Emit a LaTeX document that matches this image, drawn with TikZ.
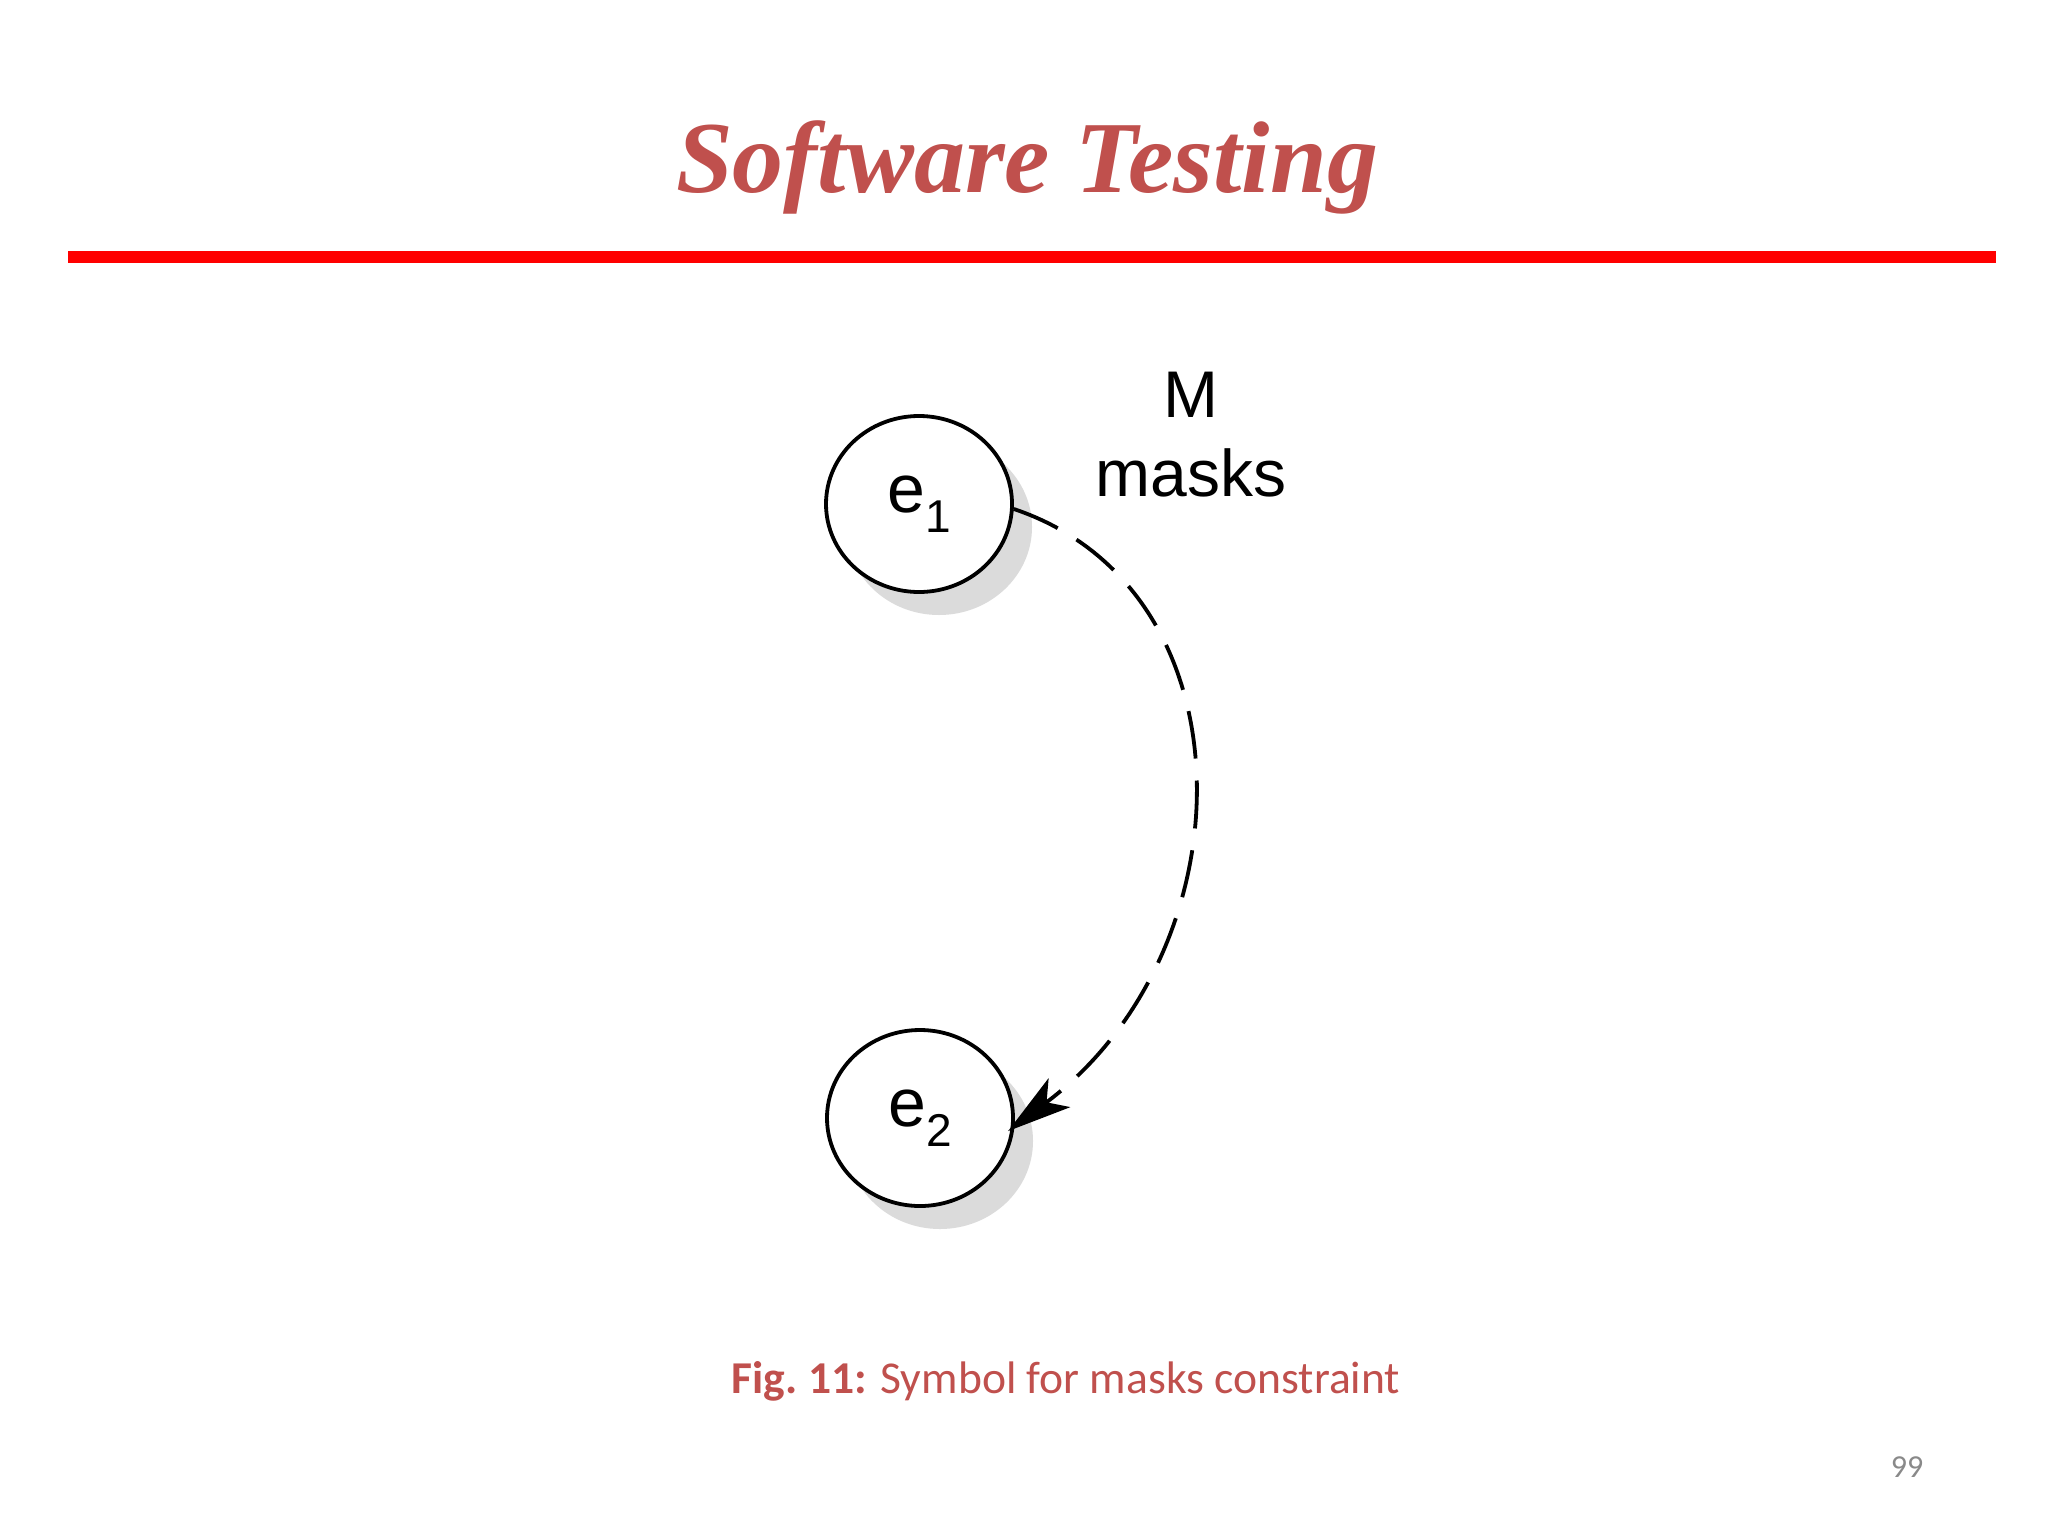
\documentclass[tikz,border=0pt]{standalone}
\usepackage{fontspec}
\usetikzlibrary{shapes.geometric,shadows,arrows.meta}
\newfontfamily\arialfont{Liberation Sans}
\newfontfamily\calibrifont{Carlito}
\newfontfamily\titlefont{Liberation Serif}
\definecolor{titlered}{RGB}{192,80,77}
\definecolor{rulered}{RGB}{255,0,0}
\definecolor{pagegray}{RGB}{137,137,137}
\tikzset{
  eventnode/.style={ellipse, draw=black, line width=1.9pt, fill=white,
    minimum width=93pt, minimum height=88pt, inner sep=0pt,
    drop shadow={shadow xshift=10pt, shadow yshift=-11.5pt, fill=black!14, opacity=1},
    font=\arialfont\fontsize{34}{34}\selectfont},
  maskarrow/.style={line width=1.9pt, dash pattern=on 24pt off 11pt,
    -{Stealth[length=32pt,width=18pt,inset=8pt]}},
  labeltext/.style={font=\arialfont\fontsize{33}{39.5}\selectfont, align=center, inner sep=0pt}
}
\begin{document}
\begin{tikzpicture}[x=0.5pt,y=-0.5pt]
\useasboundingbox[fill=white] (0,0) rectangle (2048,1536);
% title
\node[anchor=base, inner sep=0pt, text=titlered,
      font=\titlefont\bfseries\itshape\fontsize{51}{60}\selectfont] (title) at (1027,192) {Software Testing};
% rule
\fill[rulered] (68,251) rectangle (1996,263);
% events
\node[eventnode] (e1) at (919,504) {e\raisebox{-10pt}{\fontsize{23}{23}\selectfont 1}};
\node[eventnode] (e2) at (920,1118) {e\raisebox{-10pt}{\fontsize{23}{23}\selectfont 2}};
% label
\node[labeltext, anchor=north] (lbl) at (1191,372) {M\\masks};
% arrow
\draw[maskarrow, shorten >=-4pt] (e1.-3) .. controls (1255,590) and (1250,950) .. (e2.-5);
% caption
\node[anchor=base, inner sep=0pt, text=titlered,
      font=\calibrifont\fontsize{22.8}{27}\selectfont] (cap) at (1066,1393) {\textbf{Fig.\ 11:} Symbol for masks constraint};
% page number
\node[anchor=base, inner sep=0pt, text=pagegray,
      font=\calibrifont\fontsize{16}{18}\selectfont] (pg) at (1907,1477) {99};
\end{tikzpicture}
\end{document}
